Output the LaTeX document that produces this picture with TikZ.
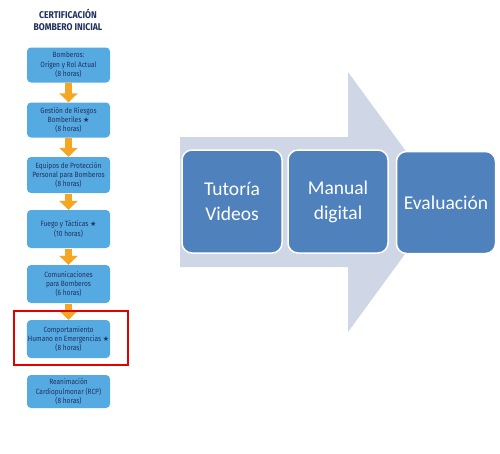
\documentclass[tikz,border=0pt]{standalone}
\usepackage{fontspec}
\setmainfont{Carlito}
\newfontfamily\condf[FakeStretch=0.86]{Fira Sans}
\newfontfamily\condb[FakeStretch=0.88]{Fira Sans Bold}
\newfontfamily\symf{DejaVu Sans}
\usetikzlibrary{arrows.meta}
\definecolor{lbox}{HTML}{55AAE2}
\definecolor{navy}{HTML}{22305E}
\definecolor{org}{HTML}{F6A623}
\definecolor{bigarr}{HTML}{CFD7E6}
\definecolor{dbox}{HTML}{4F81BD}
\newcommand{\st}{{\symf\fontsize{7}{9}\selectfont ★}}
\tikzset{
  cert/.style={fill=lbox, rounded corners=4pt, minimum width=83pt, minimum height=35pt,
    text=navy, align=center, inner sep=1pt, font=\condf\fontsize{7.6}{9.4}\selectfont},
  bigbox/.style={fill=dbox, draw=white, line width=1.5pt, rounded corners=10pt,
    minimum width=100pt, minimum height=103pt, text=white, align=center,
    font=\fontsize{19.5}{25}\selectfont},
  downarr/.style={-{Triangle[width=18pt,length=9pt]}, line width=7pt, draw=org, shorten >=0pt}
}
\begin{document}
\begin{tikzpicture}[x=1pt,y=-1pt]
\useasboundingbox (0,0) rectangle (500,453);
\fill[white] (0,0) rectangle (500,453);
% title
\node[text=navy, font=\condb\fontsize{9.8}{12.5}\selectfont, align=center] (title) at (68,20) {CERTIFICACIÓN\\BOMBERO INICIAL};
% left boxes
\node[cert] (b1) at (68.5,65) {Bomberos:\\Origen y Rol Actual\\(8 horas)};
\node[cert] (b2) at (68.5,120) {Gestión de Riesgos\\Bomberiles \st\\(8 horas)};
\node[cert, minimum height=36pt] (b3) at (68.5,175) {Equipos de Protección\\Personal para Bomberos\\(8 horas)};
\node[cert, minimum height=38pt] (b4) at (68.5,229) {Fuego y Tácticas \st\\(10 horas)};
\node[cert, minimum height=38pt] (b5) at (68.5,284) {Comunicaciones\\para Bomberos\\(6 horas)};
\node[cert, minimum height=38pt] (b6) at (68.5,339) {Comportamiento\\Humano en Emergencias \st\\(8 horas)};
\node[cert, minimum height=33pt] (b7) at (68.5,391.5) {Reanimación\\Cardiopulmonar (RCP)\\(8 horas)};
% orange arrows
\foreach \a/\b in {b1/b2,b2/b3,b3/b4,b4/b5,b5/b6}
  \draw[downarr] ([yshift=-0.5pt]\a.south) -- (\b.north);
% red highlight
\node[draw=red!90!black, line width=2pt, minimum width=114pt, minimum height=54pt, inner sep=0pt] (hl) at (70.5,337.5) {};
% big arrow
\fill[bigarr] (180,137) -- (348,137) -- (348,72) -- (443,202) -- (348,332) -- (348,267) -- (180,267) -- cycle;
% right boxes
\node[bigbox] (t1) at (232,201.5) {Tutoría\\Videos};
\node[bigbox] (t2) at (338,201.5) {Manual\\digital};
\node[bigbox, minimum width=99pt, minimum height=102pt] (t3) at (446,202.5) {Evaluación};
\end{tikzpicture}
\end{document}
